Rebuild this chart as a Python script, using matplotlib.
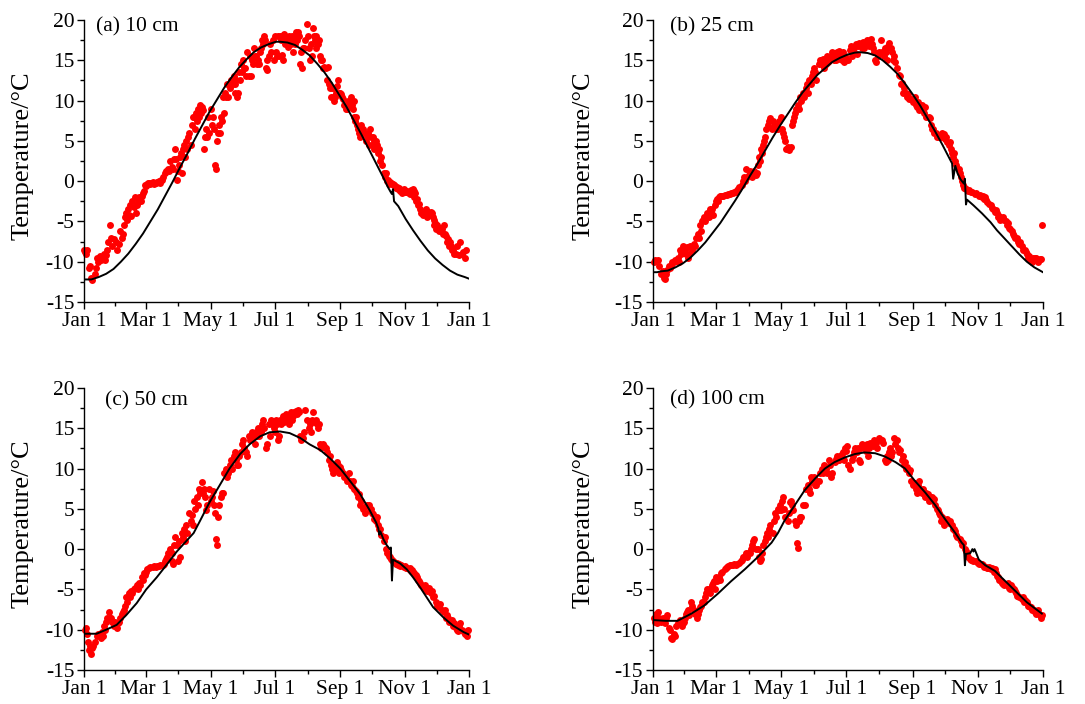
import numpy as np
import matplotlib
matplotlib.use('Agg')
import matplotlib.pyplot as plt

plt.rcParams['font.family'] = ['Liberation Serif', 'DejaVu Serif']
plt.rcParams['axes.unicode_minus'] = False

# x axis: day of year, ticks on the first of every second month
month_days = [0, 59, 120, 181, 243, 304, 365]
month_labels = ['Jan 1', 'Mar 1', 'May 1', 'Jul 1', 'Sep 1', 'Nov 1', 'Jan 1']
panel_labels = ['(a) 10 cm', '(b) 25 cm', '(c) 50 cm', '(d) 100 cm']

# observed soil temperature: day, reading on that day, reading on the next day
obs_day_a = [0, 2, 5, 7, 10, 12, 15, 18, 20, 22, 25, 27, 30, 33, 36, 38, 40, 42, 44, 46,
             48, 50, 52, 54, 56, 58, 60, 62, 64, 66, 68, 70, 72, 74, 77, 80, 82, 84, 86, 88,
             90, 92, 94, 96, 98, 100, 102, 104, 106, 108, 110, 112, 114, 116, 118, 120, 122, 124, 126, 128,
             130, 132, 134, 136, 138, 140, 142, 143, 145, 147, 149, 151, 153, 155, 157, 159, 161, 163, 165, 167,
             169, 171, 173, 174, 176, 179, 181, 183, 185, 187, 188, 190, 192, 194, 196, 198, 200, 201, 203, 205,
             207, 209, 211, 213, 215, 217, 219, 220, 222, 224, 226, 228, 230, 232, 234, 236, 237, 239, 241, 243,
             245, 247, 249, 251, 253, 255, 256, 258, 260, 262, 264, 266, 268, 270, 272, 274, 275, 277, 279, 281,
             283, 285, 287, 289, 291, 293, 294, 296, 298, 300, 302, 304, 306, 308, 310, 312, 313, 315, 317, 319,
             321, 323, 325, 327, 329, 331, 332, 334, 336, 338, 340, 342, 344, 346, 348, 350, 353, 356, 358, 361]
obs_t1_a = [-8.5, -9.0, -10.8, -12.0, -11.5, -9.5, -9.3, -9.5, -9.8, -8.5, -5.5, -8.0, -7.5, -7.8, -7.0, -5.5, -4.0, -3.5, -3.0, -2.5,
            -2.0, -3.0, -2.0, -2.5, -1.5, -0.5, -0.3, -0.2, -0.2, -0.3, -0.2, -0.1, -0.2, 0.2, 1.0, 1.5, 2.5, 1.5, 4.0, 0.2,
            2.0, 3.5, 4.0, 3.0, 4.0, 6.0, 7.0, 8.0, 8.5, 9.0, 9.5, 9.2, 4.0, 6.5, 8.0, 9.0, 8.0, 2.0, 5.0, 7.0,
            8.0, 10.5, 11.0, 12.0, 11.5, 12.5, 13.0, 11.0, 10.5, 13.5, 14.5, 15.0, 14.0, 16.0, 15.5, 15.0, 16.5, 15.5, 15.0, 16.0,
            17.5, 18.0, 14.0, 13.8, 17.0, 17.5, 18.0, 15.5, 15.5, 17.5, 18.0, 18.2, 17.5, 18.0, 17.0, 16.0, 17.0, 18.5, 18.5, 14.5,
            14.0, 16.5, 19.5, 16.5, 17.0, 19.0, 17.5, 16.5, 17.0, 15.5, 15.0, 14.2, 12.5, 12.0, 10.5, 10.5, 11.5, 11.0, 12.5, 11.0,
            10.5, 9.5, 9.0, 9.5, 10.5, 9.0, 8.0, 8.0, 6.5, 5.5, 6.0, 6.0, 5.5, 4.5, 5.5, 5.5, 4.0, 5.0, 3.5, 2.5,
            2.0, 0.5, 0.0, -0.3, -0.2, -0.3, -0.5, -0.8, -1.0, -1.2, -1.5, -1.3, -1.2, -1.5, -1.1, -1.0, -2.0, -2.5, -3.0, -3.5,
            -4.2, -4.0, -4.5, -4.0, -3.8, -4.5, -5.5, -6.0, -6.0, -5.8, -6.5, -6.5, -7.5, -8.0, -8.0, -8.5, -9.0, -9.2, -9.0, -9.5]
obs_t2_a = [-8.8, -8.6, -10.5, -12.3, -10.8, -10.0, -9.8, -9.0, -9.2, -7.5, -7.0, -7.2, -8.5, -6.2, -6.5, -4.5, -4.8, -4.2, -4.3, -3.2,
            -4.0, -2.6, -2.4, -1.8, -1.2, -0.6, -0.2, -0.3, -0.1, -0.2, -0.1, 0.0, 0.1, 0.5, 1.3, 1.2, 1.8, 2.7, 2.8, 1.2,
            3.0, 1.0, 4.5, 5.0, 5.5, 4.5, 8.0, 6.5, 7.5, 8.0, 8.5, 8.8, 5.5, 5.5, 6.0, 7.0, 6.5, 1.5, 6.0, 6.0,
            7.5, 8.5, 10.5, 10.5, 12.5, 12.0, 12.0, 12.5, 11.0, 12.5, 13.5, 14.0, 13.0, 13.0, 13.0, 14.5, 15.5, 14.5, 14.5, 16.5,
            17.0, 17.5, 15.0, 15.5, 16.0, 15.0, 16.0, 18.0, 18.0, 15.7, 15.0, 17.0, 16.7, 17.5, 18.0, 17.5, 18.0, 17.5, 18.0, 16.0,
            16.5, 17.5, 18.0, 15.0, 15.5, 18.0, 18.0, 17.0, 17.5, 15.0, 14.0, 14.0, 14.2, 11.5, 11.5, 10.0, 10.5, 11.8, 11.0, 10.8,
            10.2, 9.0, 10.0, 9.5, 9.5, 10.0, 7.5, 7.0, 6.0, 7.0, 6.5, 5.0, 6.0, 6.5, 4.5, 5.0, 5.0, 4.5, 4.0, 3.0,
            1.0, 1.0, 0.2, -0.1, -0.4, -0.5, -0.6, -0.7, -0.9, -1.1, -1.0, -1.4, -1.3, -1.6, -1.5, -1.2, -1.5, -2.2, -2.8, -4.0,
            -3.9, -3.5, -3.8, -4.2, -4.0, -4.8, -5.2, -5.5, -6.2, -6.0, -5.5, -6.8, -7.2, -7.5, -8.5, -9.0, -8.0, -7.5, -8.8, -8.5]

obs_day_b = [1, 5, 8, 10, 12, 15, 17, 20, 23, 25, 27, 30, 32, 34, 37, 39, 42, 44, 46, 48,
             51, 53, 55, 58, 60, 62, 64, 66, 69, 72, 75, 78, 80, 83, 85, 87, 90, 92, 95, 97,
             99, 101, 103, 105, 108, 110, 112, 115, 117, 120, 122, 124, 126, 129, 131, 133, 136, 138, 140, 143,
             145, 148, 150, 152, 155, 157, 159, 162, 164, 167, 169, 171, 173, 176, 178, 180, 183, 185, 187, 190,
             192, 195, 197, 199, 202, 204, 206, 208, 211, 213, 216, 218, 220, 223, 225, 227, 230, 232, 234, 237,
             239, 242, 244, 246, 248, 251, 253, 255, 258, 260, 262, 265, 267, 270, 272, 274, 277, 279, 281, 283,
             286, 288, 290, 292, 295, 298, 301, 305, 308, 310, 312, 315, 317, 320, 322, 324, 327, 329, 331, 333,
             336, 338, 341, 343, 345, 348, 350, 352, 355, 357, 359, 361, 363]
obs_t1_b = [-10.0, -9.8, -11.5, -12.0, -11.5, -10.5, -10.5, -10.0, -9.5, -8.5, -8.8, -8.5, -8.2, -9.0, -8.5, -8.0, -6.5, -5.5, -5.0, -4.5,
            -4.0, -3.5, -3.5, -3.0, -2.2, -2.0, -1.9, -1.8, -1.7, -1.6, -1.5, -1.3, -1.0, -0.5, 0.5, 1.5, 0.8, 1.0, 1.3, 1.0,
            3.0, 4.0, 4.5, 5.5, 7.0, 7.8, 7.5, 6.5, 6.5, 8.0, 6.0, 5.0, 4.3, 4.2, 7.5, 8.5, 9.5, 10.5, 11.0, 11.5,
            11.0, 12.0, 13.5, 13.5, 14.5, 14.5, 15.2, 14.5, 14.8, 15.5, 15.0, 15.0, 15.2, 15.5, 16.0, 15.5, 15.0, 16.8, 16.0, 17.0,
            16.8, 17.0, 17.3, 17.0, 16.8, 17.6, 16.5, 15.0, 15.5, 17.5, 15.5, 16.0, 16.8, 16.5, 15.0, 14.8, 13.2, 12.0, 11.0, 11.0,
            10.8, 10.2, 10.0, 9.5, 9.8, 9.0, 9.0, 9.2, 8.0, 7.0, 6.5, 6.0, 5.7, 5.5, 5.8, 5.5, 4.5, 4.0, 3.0, 2.5,
            1.5, 0.5, -0.5, -0.9, -1.2, -1.4, -1.6, -1.8, -2.0, -2.2, -2.3, -2.8, -3.3, -3.8, -4.0, -4.3, -4.7, -4.8, -5.5, -5.8,
            -6.2, -6.8, -7.0, -7.8, -8.0, -8.5, -9.0, -9.3, -10.0, -9.8, -9.5, -9.8, -9.7]
obs_t2_b = [-9.8, -10.5, -11.2, -12.2, -11.0, -10.8, -10.0, -9.8, -10.0, -9.0, -8.0, -9.0, -9.5, -8.0, -7.8, -7.0, -7.0, -6.2, -4.8, -5.0,
            -4.5, -3.8, -4.2, -2.5, -2.5, -1.9, -1.8, -1.7, -1.6, -1.5, -1.4, -1.1, -0.7, 0.0, 0.0, 0.5, 1.2, 0.5, 0.8, 2.0,
            2.5, 3.5, 5.0, 6.5, 7.5, 6.5, 6.8, 7.0, 7.5, 6.5, 5.5, 4.0, 3.9, 7.0, 8.0, 9.0, 9.0, 10.0, 10.5, 12.0,
            12.5, 13.0, 14.0, 12.5, 15.0, 15.0, 14.0, 15.5, 15.2, 16.0, 15.8, 16.0, 16.2, 15.0, 14.8, 15.0, 16.3, 15.5, 16.5, 15.8,
            17.2, 16.5, 16.5, 17.5, 17.5, 17.0, 16.0, 14.8, 16.0, 16.0, 16.5, 15.0, 17.2, 16.0, 15.5, 14.0, 13.0, 12.2, 11.5, 10.5,
            10.2, 9.8, 10.5, 9.2, 8.8, 9.5, 8.5, 8.0, 7.8, 6.5, 6.0, 5.5, 5.5, 6.0, 5.2, 4.8, 4.8, 3.5, 3.5, 2.0,
            1.0, 0.0, -0.8, -1.0, -1.1, -1.3, -1.5, -1.7, -1.9, -2.0, -2.6, -3.0, -3.5, -3.6, -4.5, -4.8, -4.5, -5.0, -5.2, -6.0,
            -6.5, -7.0, -7.5, -7.5, -8.5, -8.8, -9.5, -9.8, -9.5, -9.5, -10.0, -9.6, -5.5]

obs_day_c = [1, 3, 5, 7, 9, 12, 15, 17, 19, 21, 24, 26, 28, 31, 33, 36, 38, 40, 43, 45,
             47, 50, 52, 55, 57, 59, 62, 65, 68, 71, 75, 77, 79, 82, 83, 85, 88, 90, 93, 95,
             97, 100, 102, 104, 107, 109, 112, 114, 116, 119, 121, 123, 125, 127, 130, 132, 135, 137, 139, 142,
             144, 146, 149, 151, 154, 156, 158, 161, 163, 165, 168, 170, 173, 175, 177, 180, 182, 184, 186, 189,
             192, 194, 196, 198, 201, 203, 205, 208, 210, 213, 215, 217, 220, 222, 224, 227, 229, 232, 234, 236,
             239, 241, 243, 246, 248, 251, 253, 255, 258, 260, 262, 265, 267, 270, 272, 274, 277, 279, 281, 284,
             286, 289, 291, 293, 296, 298, 300, 303, 305, 308, 310, 312, 315, 317, 319, 322, 324, 326, 329, 331,
             334, 336, 338, 341, 343, 345, 348, 350, 353, 355, 357, 360, 362, 363]
obs_t1_c = [-10.0, -10.5, -12.5, -13.0, -12.0, -10.8, -10.5, -10.3, -9.5, -9.0, -7.8, -8.5, -9.5, -9.8, -9.0, -8.0, -7.5, -6.0, -5.5, -5.2,
            -5.0, -4.5, -4.2, -3.5, -3.0, -2.8, -2.3, -2.2, -2.2, -2.1, -2.0, -1.5, -1.0, 0.0, -1.5, 0.5, 0.5, 1.0, 2.0, 2.5,
            3.0, 4.5, 4.2, 6.0, 6.5, 7.5, 8.3, 7.5, 4.8, 7.5, 6.5, 5.5, 1.2, 4.0, 6.5, 7.0, 10.0, 9.5, 11.0, 11.5,
            11.0, 10.5, 12.0, 13.5, 12.0, 14.0, 13.8, 14.0, 14.5, 15.0, 14.5, 16.0, 12.5, 15.5, 16.0, 15.0, 16.0, 13.5, 16.0, 16.5,
            16.8, 15.5, 17.0, 16.5, 17.2, 17.3, 14.0, 13.8, 17.3, 15.0, 14.5, 17.0, 16.0, 15.0, 13.0, 13.0, 12.5, 11.0, 10.5, 9.5,
            10.0, 10.5, 10.2, 9.5, 9.0, 9.5, 8.0, 8.5, 7.2, 6.5, 5.5, 5.0, 5.3, 5.5, 5.0, 4.3, 3.5, 3.0, 2.5, 1.0,
            0.0, -0.8, -1.2, -1.5, -1.8, -2.0, -2.1, -2.2, -2.4, -2.5, -2.7, -2.8, -3.2, -3.8, -4.2, -4.8, -5.0, -5.0, -5.5, -6.0,
            -6.5, -7.0, -6.8, -7.8, -8.5, -8.5, -9.0, -9.5, -9.8, -10.2, -9.2, -10.3, -10.5, -10.8]
obs_t2_c = [-9.8, -11.5, -12.0, -12.3, -11.5, -10.5, -11.0, -10.8, -10.0, -8.5, -8.5, -9.0, -9.0, -9.2, -8.5, -7.8, -7.0, -6.5, -6.0, -5.5,
            -4.8, -5.0, -4.5, -3.8, -3.2, -2.5, -2.2, -2.1, -2.1, -2.0, -1.8, -1.2, -0.5, -0.5, -1.8, 1.5, -1.5, -1.0, 1.5, 1.0,
            2.0, 3.5, 3.0, 5.0, 5.5, 7.0, 7.0, 6.5, 5.5, 6.0, 7.2, 4.5, 0.5, 5.5, 7.0, 9.5, 9.0, 10.5, 10.0, 12.0,
            10.5, 11.5, 13.0, 12.5, 11.5, 13.5, 14.5, 13.0, 14.0, 14.0, 15.5, 15.0, 13.0, 14.0, 15.5, 14.5, 15.5, 14.0, 15.5, 15.8,
            16.2, 16.5, 16.0, 17.0, 16.8, 17.0, 13.5, 14.5, 16.0, 15.5, 16.0, 15.8, 15.5, 15.5, 12.5, 12.8, 12.0, 11.5, 10.0, 10.5,
            10.8, 9.5, 9.8, 9.0, 8.5, 8.5, 7.8, 7.5, 7.0, 6.8, 6.0, 4.5, 5.5, 4.8, 4.5, 3.8, 4.0, 2.5, 1.8, 1.5,
            -0.5, -1.0, -1.4, -1.6, -1.7, -1.9, -2.0, -2.1, -2.3, -2.4, -2.6, -3.0, -3.4, -4.0, -4.5, -4.5, -5.2, -4.8, -5.2, -5.8,
            -7.0, -7.2, -7.5, -7.6, -8.2, -9.0, -8.8, -9.2, -10.0, -9.5, -10.0, -10.5, -10.2, -10.0]

obs_day_d = [1, 3, 5, 8, 10, 12, 15, 17, 20, 22, 24, 27, 29, 31, 33, 36, 38, 41, 43, 45,
             48, 50, 52, 55, 57, 59, 62, 64, 67, 69, 72, 75, 78, 81, 83, 86, 88, 91, 93, 95,
             98, 100, 102, 105, 107, 109, 112, 114, 117, 119, 121, 123, 126, 128, 130, 133, 135, 137, 139, 142,
             144, 146, 148, 151, 153, 155, 158, 160, 162, 165, 167, 170, 172, 174, 177, 179, 181, 183, 186, 188,
             191, 193, 195, 198, 200, 202, 205, 207, 209, 212, 214, 217, 219, 221, 223, 226, 228, 230, 233, 235,
             237, 240, 242, 245, 247, 249, 252, 254, 256, 258, 261, 263, 266, 268, 270, 272, 275, 277, 280, 282,
             284, 287, 289, 292, 294, 297, 299, 302, 304, 307, 309, 312, 314, 316, 319, 321, 323, 326, 328, 331,
             333, 335, 338, 340, 342, 345, 347, 350, 352, 354, 357, 359, 361, 363]
obs_t1_d = [-8.5, -8.0, -7.8, -9.0, -8.8, -8.5, -9.8, -11.0, -10.5, -9.5, -9.0, -9.5, -9.0, -8.0, -7.5, -6.5, -7.5, -8.5, -7.5, -7.0,
            -6.5, -5.5, -5.0, -4.5, -4.0, -3.5, -3.5, -3.0, -2.5, -2.2, -2.0, -2.0, -2.0, -1.7, -1.3, -0.8, -1.0, -0.5, 0.5, 1.2,
            0.0, -1.5, -0.5, 1.0, 2.0, 2.5, 2.0, 4.5, 5.0, 5.5, 6.0, 5.0, 3.5, 5.8, 5.5, 3.5, 0.8, 3.5, 4.0, 5.5,
            7.5, 7.5, 9.0, 9.0, 8.0, 8.5, 10.0, 10.5, 10.0, 11.0, 9.0, 10.8, 11.5, 11.0, 11.8, 11.0, 12.2, 10.5, 11.0, 12.0,
            12.0, 11.0, 12.5, 12.8, 13.0, 12.5, 13.0, 13.5, 13.2, 13.8, 13.5, 11.0, 11.5, 12.0, 11.5, 13.8, 13.5, 12.0, 11.0, 10.5,
            10.0, 9.5, 8.5, 8.2, 7.0, 8.5, 7.0, 6.8, 7.0, 6.0, 6.5, 6.2, 5.0, 4.5, 3.5, 3.0, 3.8, 3.2, 3.0, 2.5,
            1.8, 1.2, 0.5, 0.0, -0.5, -1.2, -1.4, -1.5, -1.7, -1.9, -2.0, -2.2, -2.4, -2.5, -2.8, -3.0, -3.5, -4.0, -4.3, -4.5,
            -4.8, -4.5, -5.0, -5.5, -5.8, -6.2, -6.5, -6.5, -7.0, -7.2, -7.5, -8.0, -8.0, -8.5]
obs_t2_d = [-9.0, -9.2, -8.5, -8.5, -9.2, -8.2, -10.0, -11.2, -10.8, -9.2, -8.8, -9.2, -8.5, -7.8, -8.2, -7.0, -8.0, -8.0, -7.2, -6.5,
            -6.0, -5.0, -5.5, -4.2, -5.0, -4.0, -3.8, -2.8, -2.3, -2.1, -2.0, -1.9, -1.8, -1.5, -1.0, -0.5, -0.5, 0.0, 1.0, 0.0,
            -1.0, -1.2, 0.5, 1.5, 1.5, 3.0, 3.5, 4.0, 4.8, 4.8, 6.5, 4.0, 4.5, 6.0, 4.8, 3.0, 0.2, 4.0, 5.5, 7.5,
            8.0, 7.0, 8.5, 8.0, 8.5, 9.5, 9.5, 10.0, 9.5, 10.5, 9.5, 11.2, 11.0, 11.5, 12.0, 12.5, 12.8, 10.0, 11.5, 12.5,
            12.5, 10.8, 13.0, 12.2, 11.5, 13.2, 12.8, 13.0, 12.5, 13.5, 13.2, 10.8, 11.0, 12.5, 12.0, 13.0, 12.5, 12.3, 11.5, 10.8,
            10.2, 9.8, 8.0, 7.5, 8.0, 7.5, 7.5, 6.5, 6.8, 6.5, 6.0, 5.5, 4.8, 4.2, 4.0, 3.5, 3.5, 3.5, 2.5, 2.2,
            1.5, 1.0, 0.8, -0.2, -1.0, -1.3, -1.5, -1.6, -1.8, -1.8, -2.2, -2.3, -2.2, -2.3, -2.5, -3.3, -3.8, -4.2, -4.5, -4.2,
            -5.0, -4.7, -5.2, -5.8, -6.0, -6.0, -6.3, -7.0, -7.2, -7.5, -7.8, -7.6, -8.2, -8.2]

# simulated soil temperature
sim_day_a = [0, 7, 14, 21, 28, 35, 42, 49, 56, 63, 70, 77, 84, 91, 98, 105, 112, 119, 126, 133,
             140, 147, 154, 161, 168, 175, 182, 186, 193, 200, 207, 214, 221, 228, 235, 242, 249, 256, 263, 270,
             277, 284, 288, 291, 292, 293, 294, 298, 305, 312, 319, 326, 333, 340, 347, 354, 361, 365]
sim_t_a = [-12.2, -12.2, -11.9, -11.5, -10.9, -10.0, -9.0, -7.8, -6.5, -5.0, -3.5, -1.8, -0.1, 1.7, 3.4, 5.2, 6.9, 8.6, 10.1, 11.6,
           12.9, 14.1, 15.1, 16.0, 16.6, 17.0, 17.3, 17.3, 17.2, 16.9, 16.3, 15.6, 14.6, 13.5, 12.2, 10.7, 9.2, 7.5, 5.8, 4.0,
           2.2, 0.4, -0.7, -1.4, -1.6, -1.0, -2.5, -3.1, -4.7, -6.1, -7.4, -8.6, -9.6, -10.4, -11.1, -11.6, -11.9, -12.1]

sim_day_b = [0, 4, 7, 14, 21, 28, 35, 42, 49, 56, 63, 70, 77, 84, 91, 98, 105, 112, 119, 126,
             133, 140, 147, 154, 161, 168, 175, 182, 189, 194, 201, 208, 215, 222, 229, 236, 243, 250, 257, 264,
             271, 278, 280, 281, 283, 285, 288, 291, 292, 293, 294, 300, 308, 316, 322, 329, 336, 343, 350, 357, 365]
sim_t_b = [-11.3, -11.3, -11.2, -11.1, -10.7, -10.2, -9.5, -8.6, -7.6, -6.4, -5.2, -3.8, -2.4, -0.9, 0.7, 2.2, 3.8, 5.4, 6.9, 8.3,
           9.7, 11.0, 12.1, 13.2, 14.0, 14.8, 15.3, 15.7, 15.95, 16.0, 15.9, 15.6, 15.0, 14.2, 13.3, 12.1, 10.8, 9.4, 7.8, 6.2,
           4.5, 2.7, 2.2, 0.3, 1.9, 1.0, 0.2, -0.3, 0.3, -2.9, -2.3, -3.0, -4.0, -5.1, -6.1, -7.1, -8.1, -9.1, -10.0, -10.7, -11.3]

sim_day_c = [0, 12, 21, 31, 40, 50, 59, 69, 78, 88, 97, 104, 110, 119, 129, 138, 148, 157, 167, 176,
             186, 195, 205, 214, 224, 233, 243, 252, 262, 271, 277, 279, 280, 281, 284, 287, 290, 291, 292, 293,
             300, 306, 312, 319, 325, 331, 341, 350, 360, 365]
sim_t_c = [-10.5, -10.5, -10.0, -9.4, -8.2, -6.7, -5.0, -3.5, -2.0, -0.3, 1.0, 2.0, 3.5, 5.8, 8.0, 10.0, 11.8, 13.0, 14.0, 14.5,
           14.6, 14.4, 13.8, 13.0, 12.3, 11.3, 10.0, 8.5, 6.8, 4.8, 3.3, 2.6, 1.8, 2.2, 1.2, 0.5, 0.0, 0.2, -3.9, -1.3,
           -1.8, -2.5, -3.5, -4.8, -6.0, -7.2, -8.5, -9.5, -10.3, -10.6]

sim_day_d = [0, 12, 23, 36, 48, 61, 73, 86, 98, 111, 117, 123, 133, 142, 152, 161, 170, 180, 189, 198,
             208, 217, 227, 236, 245, 255, 264, 273, 283, 289, 291, 292, 293, 297, 299, 300, 301, 302, 305, 311,
             320, 330, 340, 350, 360, 364]
sim_t_d = [-8.8, -8.9, -8.9, -8.0, -7.0, -5.5, -4.0, -2.5, -1.0, 0.8, 2.0, 3.5, 5.5, 7.3, 8.8, 10.0, 10.8, 11.4, 11.8, 12.0,
           11.9, 11.5, 10.8, 10.0, 8.5, 7.0, 5.5, 3.8, 2.0, 0.8, 0.5, -2.0, -0.6, -0.5, 0.0, -0.3, 0.0, -0.3, -1.3, -2.0,
           -2.7, -4.0, -5.3, -6.6, -7.6, -8.0]


def draw_panel(ax, obs_day, obs_t1, obs_t2, sim_day, sim_t, label, label_xy, ylabel_x):
    days = np.concatenate([np.array(obs_day), np.array(obs_day) + 1])
    temps = np.concatenate([obs_t1, obs_t2])
    ax.plot(days, temps, 'o', color='#ff0000', markersize=5.0, markeredgewidth=0,
            clip_on=False, zorder=2)
    ax.plot(sim_day, sim_t, '-', color='black', linewidth=1.4, zorder=3)

    ax.set_xlim(0, 365)
    ax.set_ylim(-15, 20)
    ax.set_xticks(month_days)
    ax.set_xticklabels(month_labels)
    mids = [(month_days[i] + month_days[i + 1]) / 2 for i in range(len(month_days) - 1)]
    ax.set_xticks(mids, minor=True)
    ax.set_yticks(np.arange(-15, 21, 5))
    ax.set_yticks(np.arange(-12.5, 20, 5), minor=True)

    for side in ['top', 'right']:
        ax.spines[side].set_visible(False)
    for side in ['left', 'bottom']:
        ax.spines[side].set_linewidth(1.0)
    ax.tick_params(which='major', direction='out', length=5, width=1.0, labelsize=15.5, pad=2)
    ax.tick_params(which='minor', direction='out', length=3, width=1.0)

    ax.set_ylabel('Temperature/°C', fontsize=19)
    ax.yaxis.set_label_coords(ylabel_x, 0.52)
    ax.text(label_xy[0], label_xy[1], label, transform=ax.transAxes,
            fontsize=15.5, ha='left', va='center')


fig = plt.figure(figsize=(10.85, 7.04), dpi=100)
fig.patch.set_facecolor('white')

ax_a = fig.add_axes([0.0774, 0.571, 0.3548, 0.4006])
ax_b = fig.add_axes([0.6018, 0.571, 0.3594, 0.4006])
ax_c = fig.add_axes([0.0774, 0.0483, 0.3548, 0.4006])
ax_d = fig.add_axes([0.6018, 0.0483, 0.3594, 0.4006])

draw_panel(ax_a, obs_day_a, obs_t1_a, obs_t2_a, sim_day_a, sim_t_a,
           panel_labels[0], (0.031, 0.975), -0.132)
draw_panel(ax_b, obs_day_b, obs_t1_b, obs_t2_b, sim_day_b, sim_t_b,
           panel_labels[1], (0.044, 0.975), -0.149)
draw_panel(ax_c, obs_day_c, obs_t1_c, obs_t2_c, sim_day_c, sim_t_c,
           panel_labels[2], (0.055, 0.954), -0.132)
draw_panel(ax_d, obs_day_d, obs_t1_d, obs_t2_d, sim_day_d, sim_t_d,
           panel_labels[3], (0.044, 0.957), -0.149)

fig.savefig('out.png', dpi=100, facecolor='white')
